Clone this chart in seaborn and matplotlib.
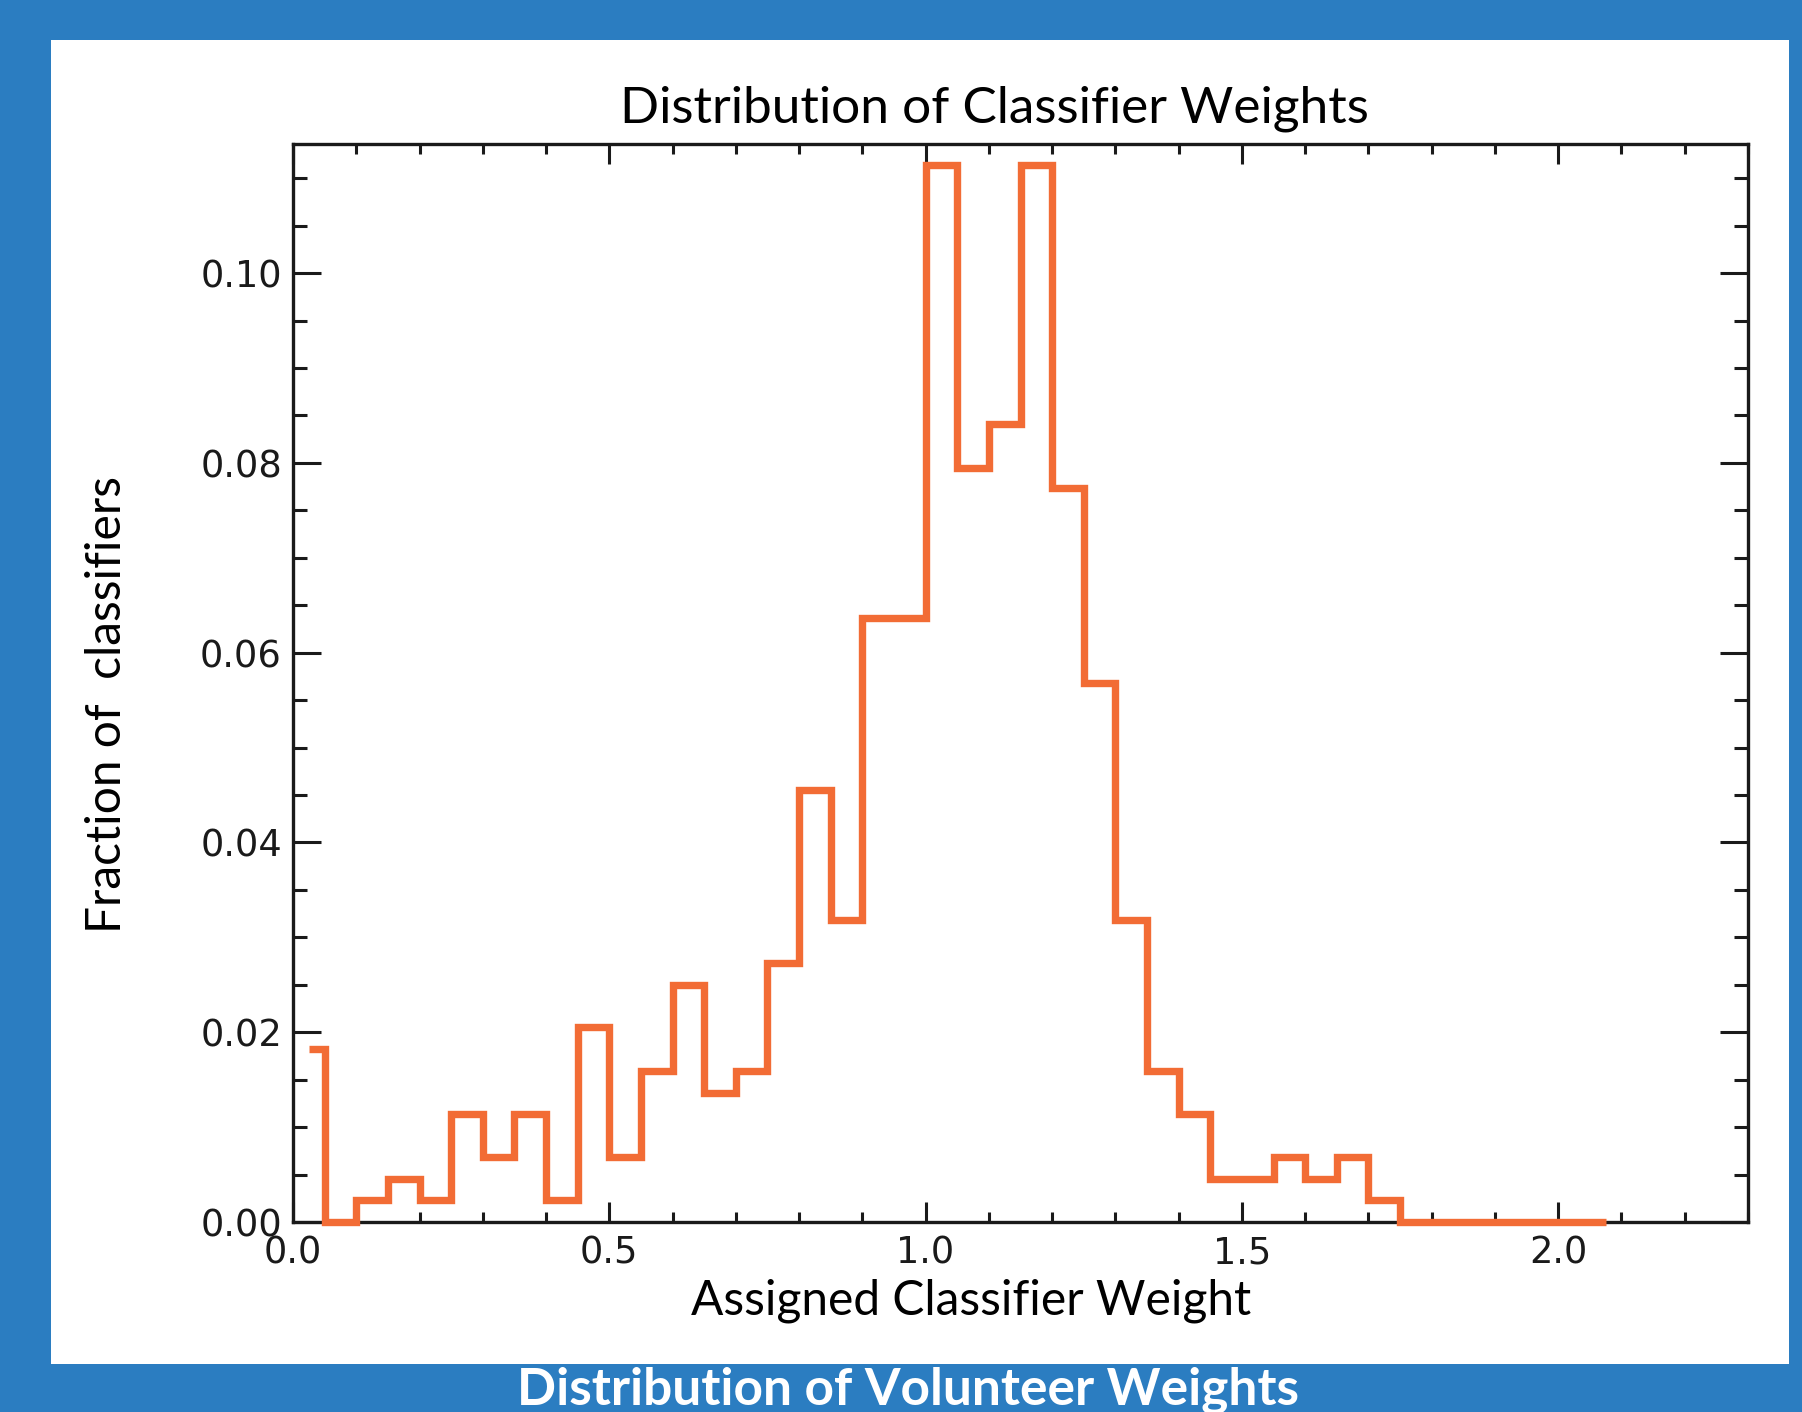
import numpy as np
import pandas as pd
import matplotlib
matplotlib.use("Agg")
import matplotlib.pyplot as plt
from matplotlib.patches import Rectangle
from matplotlib.ticker import MultipleLocator, FormatStrFormatter
import seaborn as sns

# ---------------- data ----------------
bin_width = 0.05
bin_centers = np.round(np.arange(42) * bin_width + bin_width / 2, 3)
fraction = [0.0182, 0.0000, 0.0023, 0.0045, 0.0023, 0.0114, 0.0068, 0.0114,
            0.0023, 0.0205, 0.0068, 0.0159, 0.0250, 0.0136, 0.0159, 0.0273,
            0.0455, 0.0318, 0.0636, 0.0636, 0.1114, 0.0795, 0.0841, 0.1114,
            0.0773, 0.0568, 0.0318, 0.0159, 0.0114, 0.0045, 0.0045, 0.0068,
            0.0045, 0.0068, 0.0023, 0.0000, 0.0000, 0.0000, 0.0000, 0.0000,
            0.0000, 0.0000]
title = "Distribution of Classifier Weights"
xlabel = "Assigned Classifier Weight"
ylabel = "Fraction of  classifiers"
caption = "Distribution of Volunteer Weights"

df = pd.DataFrame({"weight": bin_centers, "fraction": fraction})

# ---------------- style ----------------
sns.set_theme(style="ticks")
plt.rcParams["font.family"] = ["DejaVu Sans"]
LABEL_FONT = ["Lato", "DejaVu Sans"]

BLUE = "#2B7DC1"
ORANGE = "#F26C35"
W, H = 1802, 1412

fig = plt.figure(figsize=(W / 100, H / 100), dpi=100, facecolor=BLUE)
fig.patches.append(Rectangle((51 / W, (H - 1364) / H), 1738 / W, 1324 / H,
                             transform=fig.transFigure, facecolor="white",
                             edgecolor="none", zorder=-10))

ax = fig.add_axes([293 / W, (H - 1222) / H, 1455 / W, 1078 / H])
ax.set_facecolor("white")

sns.lineplot(data=df, x="weight", y="fraction", ax=ax, color=ORANGE,
             linewidth=5.3, drawstyle="steps-mid", solid_joinstyle="miter",
             solid_capstyle="butt", zorder=3, clip_on=False)

ax.set_xlim(0, 2.3)
ax.set_ylim(0, 0.1136)
ax.xaxis.set_major_locator(MultipleLocator(0.5))
ax.xaxis.set_minor_locator(MultipleLocator(0.1))
ax.yaxis.set_major_locator(MultipleLocator(0.02))
ax.yaxis.set_minor_locator(MultipleLocator(0.005))
ax.xaxis.set_major_formatter(FormatStrFormatter("%.1f"))
ax.yaxis.set_major_formatter(FormatStrFormatter("%.2f"))

for s in ax.spines.values():
    s.set_visible(True)
    s.set_linewidth(2.4)
    s.set_color("#1a1a1a")

ax.tick_params(axis="x", which="both", direction="in", top=True, bottom=True,
               width=2.2, color="#1a1a1a", labelsize=26.5, pad=9, labelcolor="#1a1a1a")
ax.tick_params(axis="x", which="major", length=14.5)
ax.tick_params(axis="x", which="minor", length=7.2)
ax.tick_params(axis="y", which="both", direction="in", left=True, right=True,
               width=2.2, color="#1a1a1a", labelsize=26.5, pad=8, labelcolor="#1a1a1a")
ax.tick_params(axis="y", which="major", length=20)
ax.tick_params(axis="y", which="minor", length=10)
ax.grid(False)

ax.set_title(title, fontsize=37, family=LABEL_FONT, color="black",
             x=0.482, y=1.0195, va="baseline", pad=0)
ax.set_xlabel(xlabel, fontsize=34.5, family=LABEL_FONT, color="black")
ax.xaxis.set_label_coords(0.466, -0.052)
ax.xaxis.label.set_va("top")
ax.set_ylabel(ylabel, fontsize=34.5, family=LABEL_FONT, color="black")
ax.yaxis.set_label_coords(-0.128, 0.4805)
ax.yaxis.label.set_va("center")

fig.text(0.504, 0.005, caption, color="white", fontsize=37, fontweight="bold",
         family=LABEL_FONT, ha="center", va="baseline")

fig.savefig("out.png", dpi=100, facecolor=BLUE)
